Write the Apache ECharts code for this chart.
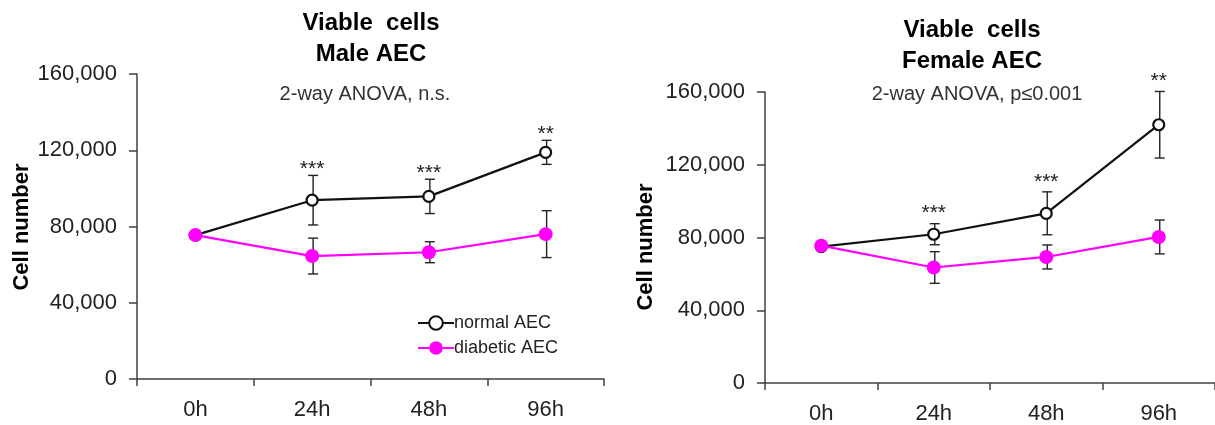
<!DOCTYPE html>
<html>
<head>
<meta charset="utf-8">
<script src="https://cdn.jsdelivr.net/npm/echarts@6/dist/echarts.min.js"></script>
<style>html,body{margin:0;padding:0;background:#fff}#c{width:1215px;height:425px}</style>
</head>
<body>
<div id="c"></div>
<script>
var categories = ['0h', '24h', '48h', '96h'];
var yTicks = [0, 40000, 80000, 120000, 160000];

var maleNormal = [75500, 93800, 95800, 118900];
var maleNormalErr = [0, 13000, 9000, 6300];
var maleDiabetic = [75500, 64500, 66500, 76000];
var maleDiabeticErr = [0, 9400, 5500, 12300];
var maleStars = ['', '***', '***', '**'];

var femaleNormal = [75000, 81800, 93300, 142000];
var femaleNormalErr = [0, 5800, 11800, 18300];
var femaleDiabetic = [75500, 63500, 69300, 80300];
var femaleDiabeticErr = [0, 8700, 6600, 9300];
var femaleStars = ['', '***', '***', '**'];

var FONT = 'Liberation Sans, Arial, sans-serif';
var AXIS = '#404040';

function errData(vals, errs, stars) {
  return vals.map(function (v, i) {
    return [i, v - errs[i], v + errs[i], stars ? stars[i] : '', errs[i]];
  });
}

function makeErrRender(gap) {
  return function (params, api) {
    var err = api.value(4);
    var star = api.value(3);
    var lo = api.coord([api.value(0), api.value(1)]);
    var hi = api.coord([api.value(0), api.value(2)]);
    var x = lo[0] + 1;
    var cap = 5;
    var children = [];
    if (err > 0) {
      var st = { stroke: '#222', lineWidth: 1.4 };
      children.push({ type: 'line', shape: { x1: x, y1: lo[1], x2: x, y2: hi[1] }, style: st });
      children.push({ type: 'line', shape: { x1: x - cap, y1: lo[1], x2: x + cap, y2: lo[1] }, style: st });
      children.push({ type: 'line', shape: { x1: x - cap, y1: hi[1], x2: x + cap, y2: hi[1] }, style: st });
    }
    if (star) {
      children.push({
        type: 'text', x: x - 1, y: hi[1] - gap + 5,
        style: { text: star, fill: '#222', font: '21px ' + FONT, align: 'center', verticalAlign: 'middle' }
      });
    }
    return { type: 'group', children: children };
  };
}

function xAxis(gi) {
  return {
    type: 'category', gridIndex: gi, data: categories, boundaryGap: true,
    axisLine: { lineStyle: { color: AXIS, width: 1.5 } },
    axisTick: { show: true, length: 7, inside: false, lineStyle: { color: AXIS, width: 1.5 } },
    axisLabel: { color: '#222', fontSize: 22, fontFamily: FONT, margin: 20 },
    splitLine: { show: false }
  };
}
function yAxis(gi) {
  return {
    type: 'value', gridIndex: gi, min: yTicks[0], max: yTicks[yTicks.length - 1], interval: 40000,
    axisLine: { show: true, lineStyle: { color: AXIS, width: 1.5 } },
    axisTick: { show: true, length: 8, lineStyle: { color: AXIS, width: 1.5 } },
    axisLabel: {
      color: '#222', fontSize: 22, fontFamily: FONT, margin: 20,
      formatter: function (v) { return v.toLocaleString('en-US'); }
    },
    splitLine: { show: false }
  };
}

function lineSeries(name, data, gi, normal) {
  return {
    name: name, type: 'line', xAxisIndex: gi, yAxisIndex: gi, data: data, z: 5,
    symbol: 'circle',
    symbolSize: normal ? 11 : 14,
    lineStyle: { color: normal ? '#111' : '#ff00ff', width: 2.2 },
    itemStyle: normal ? { color: '#fff', borderColor: '#111', borderWidth: 2.2 } : { color: '#ff00ff', borderWidth: 0 },
    color: normal ? '#111' : '#ff00ff',
    animation: false
  };
}
function errSeries(vals, errs, stars, gi, gap) {
  return {
    type: 'custom', xAxisIndex: gi, yAxisIndex: gi, z: 3,
    renderItem: makeErrRender(gap), data: errData(vals, errs, stars),
    encode: { x: 0, y: [1, 2] }, silent: true, animation: false
  };
}

function titleText(text, x, top, size, bold) {
  return { text: text, left: x, top: top, textAlign: 'center',
    textStyle: { fontSize: size, fontWeight: bold ? 'bold' : 'normal', color: bold ? '#000' : '#333', fontFamily: FONT, lineHeight: 31 } };
}

var chart = echarts.init(document.getElementById('c'));
chart.setOption({
  animation: false,
  backgroundColor: '#fff',
  title: [
    titleText('Viable  cells\nMale AEC', 366, 3, 24, true),
    titleText('2-way ANOVA, n.s.', 360, 74, 20, false),
    titleText('Viable  cells\nFemale AEC', 967, 10, 24, true),
    titleText('2-way ANOVA, p≤0.001', 972, 74, 20, false)
  ],
  graphic: [
    { type: 'text', x: 22, y: 227, rotation: Math.PI / 2,
      style: { text: 'Cell number', font: 'bold 22px ' + FONT, fill: '#000', align: 'center', verticalAlign: 'middle' } },
    { type: 'text', x: 646, y: 247, rotation: Math.PI / 2,
      style: { text: 'Cell number', font: 'bold 22px ' + FONT, fill: '#000', align: 'center', verticalAlign: 'middle' } }
  ],
  legend: {
    show: true, orient: 'vertical', left: 417, top: 314, padding: 0, itemWidth: 36, itemHeight: 17, itemGap: 7,
    textStyle: { fontSize: 18, color: '#222', fontFamily: FONT, padding: [0, 0, 0, -5] },
    data: ['normal AEC', 'diabetic AEC']
  },
  grid: [
    { left: 137, top: 74, width: 467, height: 305 },
    { left: 765, top: 92, width: 450, height: 293 }
  ],
  xAxis: [xAxis(0), xAxis(1)],
  yAxis: [yAxis(0), yAxis(1)],
  series: [
    errSeries(maleNormal, maleNormalErr, maleStars, 0, 11),
    errSeries(maleDiabetic, maleDiabeticErr, null, 0, 11),
    lineSeries('normal AEC', maleNormal, 0, true),
    lineSeries('diabetic AEC', maleDiabetic, 0, false),
    errSeries(femaleNormal, femaleNormalErr, femaleStars, 1, 15),
    errSeries(femaleDiabetic, femaleDiabeticErr, null, 1, 15),
    lineSeries('normal AEC', femaleNormal, 1, true),
    lineSeries('diabetic AEC', femaleDiabetic, 1, false)
  ]
});
</script>
</body>
</html>
